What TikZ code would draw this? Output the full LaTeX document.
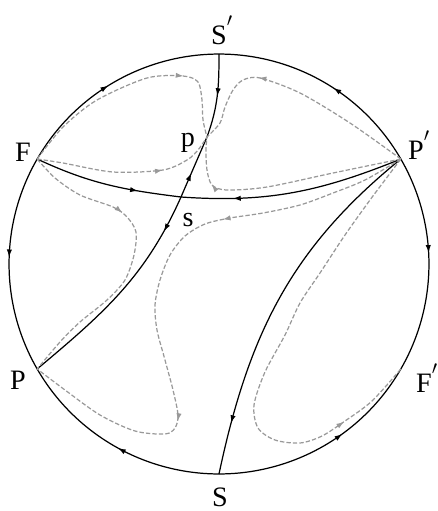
\documentclass[tikz,border=0pt]{standalone}
\usepackage{fontspec}
\setmainfont{Liberation Serif}
\usetikzlibrary{arrows.meta, decorations.markings, positioning, calc}
\colorlet{orbitgray}{black!40}

\tikzset{
  sep/.style={line width=0.7pt, black},
  orbit/.style={line width=0.7pt, orbitgray, dash pattern=on 2.5pt off 1.2pt},
  arrowat/.style={postaction={decorate}, decoration={markings,
    mark=at position #1 with {\arrow{Latex[length=4.5pt,width=3pt]}}}},
  arrowpair/.style 2 args={postaction={decorate}, decoration={markings,
    mark=at position #1 with {\arrow{Latex[length=4.5pt,width=3pt]}},
    mark=at position #2 with {\arrow{Latex[length=4.5pt,width=3pt]}}}},
  lbl/.style={inner sep=0pt, font=\fontsize{16}{19}\selectfont}
}
\newcommand{\tick}{\rlap{\smash{\raisebox{0.5ex}{$'$}}}}

\begin{document}
\begin{tikzpicture}[x=0.02cm, y=-0.02cm]
    \useasboundingbox (0,0) rectangle (438,511);
    \coordinate (C) at (219,264);
    \path (C) ++(90:4.2cm) coordinate (Sp)
          (C) ++(270:4.2cm) coordinate (S)
          (C) ++(150:4.2cm) coordinate (F)
          (C) ++(330:4.2cm) coordinate (Fp)
          (C) ++(210:4.2cm) coordinate (P)
          (C) ++(30:4.2cm) coordinate (Pp);
    \coordinate (p) at (207,137);
    \coordinate (s) at (181,197);

    % boundary circle
    \draw[sep, arrowat=0.47] (F) arc[start angle=150, end angle=90, radius=4.2cm];
    \draw[sep, arrowat=0.45] (Pp) arc[start angle=30, end angle=90, radius=4.2cm];
    \draw[sep, arrowat=0.47] (F) arc[start angle=150, end angle=210, radius=4.2cm];
    \draw[sep, arrowat=0.45] (Pp) arc[start angle=30, end angle=-30, radius=4.2cm];
    \draw[sep, arrowat=0.48] (S) arc[start angle=270, end angle=210, radius=4.2cm];
    \draw[sep, arrowat=0.6] (S) arc[start angle=270, end angle=330, radius=4.2cm];

    % separatrices
    \draw[sep, arrowat=0.71] (F) to[out=-25, in=173] (s);
    \draw[sep, arrowat=0.77] (Pp) to[out=-158, in=-4] (s);
    \draw[sep, arrowat=0.5] (Sp) to[out=-90, in=70] (p);
    \draw[sep, arrowat=0.4] (s) -- (p);
    \draw[sep, arrowat=0.17] (s) to[out=-114, in=40] (P);
    \draw[sep, arrowat=0.86] (Pp) to[out=-141, in=78] (S);

    % orbits
    \draw[orbit, arrowat=0.71] plot[smooth] coordinates {(F) (63,127) (97,100) (147,78) (183,76) (198,82) (202,100) (203,120) (p)};
    \draw[orbit, arrowat=0.69] plot[smooth] coordinates {(F) (63,163) (113,172) (163,170) (187,160) (198,150) (p)};
    \draw[orbit, arrowat=0.66] plot[smooth] coordinates {(Pp) (350,123) (300,93) (260,78) (243,80) (233,90) (225,107) (220,123) (p)};
    \draw[orbit, arrowat=0.8] plot[smooth] coordinates {(Pp) (333,173) (267,187) (227,190) (212,185) (207,170) (206,150) (p)};
    \draw[orbit, arrowat=0.34] plot[smooth] coordinates {(F) (55,178) (80,195) (113,207) (127,217) (136,232) (134,255) (125,280) (107,300) (80,322) (60,342) (P)};
    \draw[orbit, arrowpair={0.32}{0.72}] plot[smooth] coordinates {(Pp) (365,180) (333,193) (300,205) (263,213) (230,218) (205,224) (185,236) (170,255) (160,280) (155,305) (157,330) (165,360) (173,390) (178,415) (175,428) (165,434) (135,431) (100,415) (65,390) (P)};
    \draw[orbit, arrowat=0.84] plot[smooth] coordinates {(Pp) (385,180) (370,200) (345,235) (320,273) (300,303) (285,335) (265,372) (254,405) (258,428) (275,440) (300,443) (322,436) (345,421) (372,401) (Fp)};

    % labels
    \node[lbl] (lSp) at (219,35) {S\tick};
    \node[lbl] (lS) at (220,497) {S};
    \node[lbl] (lF) at (23,152) {F};
    \node[lbl] (lFp) at (424,383) {F\tick};
    \node[lbl] (lP) at (18,380) {P};
    \node[lbl] (lPp) at (416,150) {P\tick};
    \node[lbl] (lp) at (188,143) {p};
    \node[lbl] (ls) at (188,220) {s};
\end{tikzpicture}
\end{document}
